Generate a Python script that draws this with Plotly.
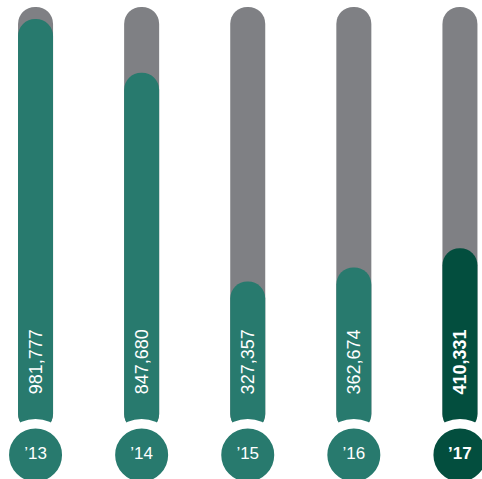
import plotly.graph_objects as go

# ---- data ----
YEARS = ["’13", "’14", "’15", "’16", "’17"]
VALUES = [981777, 847680, 327357, 362674, 410331]
HIGHLIGHT = [False, False, False, False, True]
TRACK_MAX = 1_012_000      # height of the grey background track
BAR_BASE = -45_000         # bars start slightly below zero, hidden behind the year badges

# ---- styles ----
GRAY = "#7f8084"
TEAL = "#287a6e"
DARK = "#034e3e"
FONT = "Liberation Sans, Arial, Helvetica, sans-serif"

x = list(range(len(VALUES)))
colors = [DARK if h else TEAL for h in HIGHLIGHT]

fig = go.Figure()

# grey tracks
fig.add_trace(go.Bar(
    x=x, y=[TRACK_MAX - BAR_BASE] * len(VALUES), base=BAR_BASE,
    width=0.33, marker=dict(color=GRAY, cornerradius="50%", line=dict(width=0)),
    hoverinfo="skip", showlegend=False,
))

# value bars
fig.add_trace(go.Bar(
    x=x, y=[v - BAR_BASE for v in VALUES], base=BAR_BASE,
    width=0.33, marker=dict(color=colors, cornerradius="50%", line=dict(width=0)),
    customdata=VALUES, hovertemplate="%{customdata:,}<extra></extra>",
    showlegend=False,
))

# year badges
fig.add_trace(go.Scatter(
    x=x, y=[0] * len(VALUES), xaxis="x", yaxis="y2",
    mode="markers+text",
    marker=dict(size=62.5, color=colors, line=dict(color="white", width=9.5)),
    text=[f"<b>{y}</b>" if h else y for y, h in zip(YEARS, HIGHLIGHT)],
    textposition="middle center",
    textfont=dict(size=17, color="white", family=FONT),
    cliponaxis=False, hoverinfo="skip", showlegend=False,
))

# rotated value labels
for i, (v, h) in enumerate(zip(VALUES, HIGHLIGHT)):
    label = f"{v:,}"
    fig.add_annotation(
        x=i, y=0.245, xref="x", yref="paper",
        xanchor="center", yanchor="middle",
        text=f"<b>{label}</b>" if h else label,
        textangle=-90, showarrow=False,
        font=dict(size=18, color="white", family=FONT),
    )

fig.update_layout(
    width=482, height=479,
    margin=dict(l=0, r=0, t=0, b=0),
    paper_bgcolor="white", plot_bgcolor="rgba(0,0,0,0)",
    template="none",
    barmode="overlay",
    showlegend=False,
    xaxis=dict(range=[-0.335, 4.208], visible=False, fixedrange=True),
    yaxis=dict(range=[-164754, 1029150], visible=False, domain=[0, 1], fixedrange=True),
    yaxis2=dict(range=[-1, 1], visible=False, domain=[0, 0.1], anchor="x", fixedrange=True),
)

fig.write_html(
    "out.html",
    config={"displayModeBar": False},
    post_script="document.body.style.margin='0';document.body.style.overflow='hidden';",
)
